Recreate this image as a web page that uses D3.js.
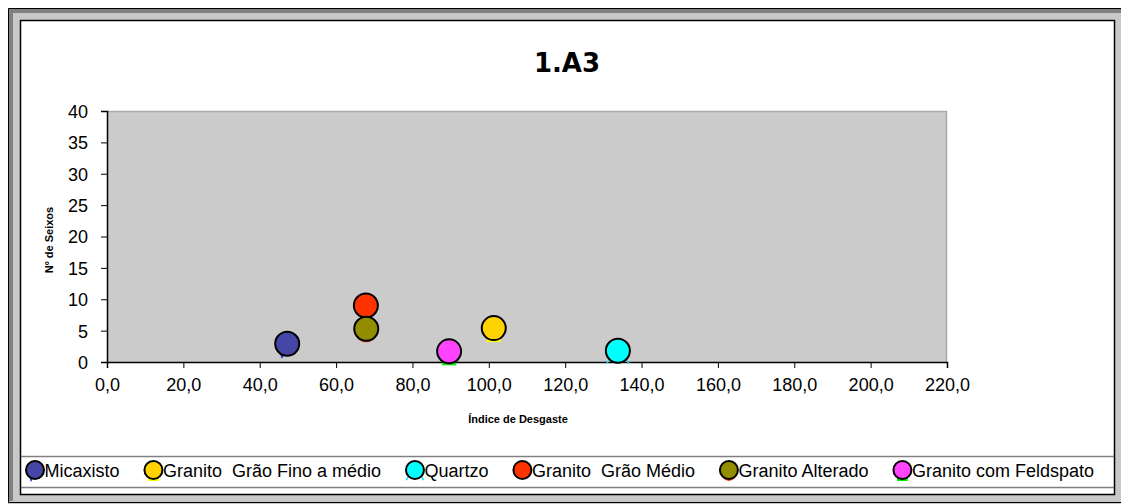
<!DOCTYPE html>
<html>
<head>
<meta charset="utf-8">
<title>1.A3</title>
<script src="https://cdn.jsdelivr.net/npm/d3@7"></script>
<style>
	body { margin: 0; background: #fff; }
	svg { display: block; }
	text { font-family: "Liberation Sans", Arial, sans-serif; fill: #000; }
</style>
</head>
<body>
<div class="chart"></div>
<script>
// data
var seriesNames = ["Micaxisto", "Granito  Grão Fino a médio", "Quartzo", "Granito  Grão Médio", "Granito Alterado", "Granito com Feldspato"];
var indiceDesgaste = [47.2, 101.3, 133.8, 67.8, 67.9, 89.6];
var nSeixos = [2.9, 5.4, 1.8, 9.0, 5.3, 1.7];
var xTicks = [0, 20, 40, 60, 80, 100, 120, 140, 160, 180, 200, 220];
var yTicks = [0, 5, 10, 15, 20, 25, 30, 35, 40];

// styles
var fillColors = ["#4646a6", "#ffd200", "#00ffff", "#ff3300", "#938e00", "#ff44ff"];
var accentColors = ["#1f35c8", "#ffff00", "#00e8ff", "#ff3300", "#ff3300", "#00ee00"];
var accentShapes = ["tri", "bar", "ticks", "none", "arc", "bar"];

var W = 1121, H = 504;
var plot = {left: 107, right: 947, top: 111, bottom: 362};

var svg = d3.select(".chart").append("svg")
	.attr("width", W)
	.attr("height", H);

// frame (excel style bevel)
svg.append("rect").attr("x", 8).attr("y", 8).attr("width", W - 8).attr("height", 496).attr("fill", "#c8c8c8");
svg.append("rect").attr("x", 9).attr("y", 9).attr("width", W - 9).attr("height", 4).attr("fill", "#808080");
svg.append("rect").attr("x", 9).attr("y", 9).attr("width", 4).attr("height", 492).attr("fill", "#808080");
svg.append("path").attr("d", "M" + W + ",8.5H8.5V502.5H" + W).attr("fill", "none").attr("stroke", "#000");
svg.append("rect").attr("x", 20.5).attr("y", 20.5).attr("width", 1094).attr("height", 474)
	.attr("fill", "#fff").attr("stroke", "#000").attr("stroke-width", 1.5);

// title
svg.append("text")
	.attr("x", 567).attr("y", 72)
	.attr("text-anchor", "middle")
	.style("font-family", "'DejaVu Sans', Verdana, sans-serif")
	.style("font-weight", "bold")
	.style("font-size", "26px")
	.text("1.A3");

var x = d3.scaleLinear().domain([0, 220]).range([plot.left, plot.right]);
var y = d3.scaleLinear().domain([0, 40]).range([plot.bottom, plot.top]);

// plot area
svg.append("rect")
	.attr("x", plot.left).attr("y", plot.top)
	.attr("width", plot.right - plot.left).attr("height", plot.bottom - plot.top)
	.attr("fill", "#cbcbcb");
svg.append("path")
	.attr("d", "M" + plot.left + "," + (plot.top + 0.5) + "H" + (plot.right - 0.5) + "V" + plot.bottom)
	.attr("fill", "none").attr("stroke", "#aaaaaa").attr("stroke-width", 1.5);

var fmtX = function(d) { return d3.format(".1f")(d).replace(".", ","); };

var xAxis = svg.append("g")
	.attr("transform", "translate(0," + plot.bottom + ")")
	.call(d3.axisBottom(x).tickValues(xTicks).tickFormat(fmtX).tickSizeOuter(0).tickSize(6).tickPadding(10));

var yAxis = svg.append("g")
	.attr("transform", "translate(" + plot.left + ",0)")
	.call(d3.axisLeft(y).tickValues(yTicks).tickFormat(d3.format("d")).tickSizeOuter(0).tickSize(6).tickPadding(13));

[xAxis, yAxis].forEach(function(g) {
	g.select(".domain").attr("stroke", "#000").attr("stroke-width", 1.5);
	g.selectAll(".tick line").attr("stroke", "#000");
	g.selectAll(".tick text")
		.style("font-family", "'Liberation Sans', Arial, sans-serif")
		.style("font-size", "18px")
		.attr("fill", "#000");
});
yAxis.selectAll(".tick text").attr("dy", "0.36em");

// axis titles
svg.append("text")
	.attr("x", 518).attr("y", 423)
	.attr("text-anchor", "middle")
	.style("font-weight", "bold").style("font-size", "11px")
	.text("Índice de Desgaste");

svg.append("text")
	.attr("transform", "translate(53,240) rotate(-90)")
	.attr("text-anchor", "middle")
	.style("font-weight", "bold").style("font-size", "11px")
	.text("Nº de Seixos");

function accent(g, shape, color, r) {
	if (shape == "tri") {
		g.append("path").attr("d", "M" + (-r * 0.7) + "," + (r * 0.6) + "L" + (-r * 0.1) + "," + (r * 0.75) + "L" + (-r * 0.45) + "," + (r + 3) + "Z").attr("fill", color);
	} else if (shape == "bar") {
		g.append("rect").attr("x", -r * 0.6).attr("y", r - 1).attr("width", r * 1.2).attr("height", 3).attr("fill", color);
	} else if (shape == "ticks") {
		g.append("path").attr("d", "M" + (-r * 0.75) + "," + (r * 0.8) + "l-2,3M" + (r * 0.75) + "," + (r * 0.8) + "l2,3")
			.attr("stroke", color).attr("stroke-width", 1.5);
	} else if (shape == "arc") {
		g.append("path").attr("d", "M" + (-r * 0.65) + "," + (r * 0.8) + "Q0," + (r + 4) + " " + (r * 0.65) + "," + (r * 0.8))
			.attr("fill", "none").attr("stroke", color).attr("stroke-width", 1.5);
	}
}

// points
var pts = svg.append("g").selectAll("g")
	.data(seriesNames)
	.enter().append("g")
	.attr("transform", function(d, i) { return "translate(" + x(indiceDesgaste[i]) + "," + y(nSeixos[i]) + ")"; });

pts.each(function(d, i) { accent(d3.select(this), accentShapes[i], accentColors[i], 12); });
pts.append("circle")
	.attr("r", 12)
	.attr("fill", function(d, i) { return fillColors[i]; })
	.attr("stroke", "#000")
	.attr("stroke-width", 2);

// legend
svg.append("path")
	.attr("d", "M21,456.5H1114M21,487.5H1114")
	.attr("stroke", "#808080").attr("stroke-width", 1.5);

var legend = svg.append("g").selectAll("g")
	.data(seriesNames)
	.enter().append("g");

var r2 = 9;
legend.each(function(d, i) { accent(d3.select(this), accentShapes[i], accentColors[i], r2); });
legend.append("circle")
	.attr("r", r2)
	.attr("fill", function(d, i) { return fillColors[i]; })
	.attr("stroke", "#000").attr("stroke-width", 2);
legend.append("text")
	.attr("x", r2 + 0.5)
	.attr("y", 6.5)
	.attr("xml:space", "preserve")
	.style("white-space", "pre")
	.style("font-size", "18px")
	.text(function(d) { return d; });

var widths = [];
legend.each(function() { widths.push(2 * r2 + 0.5 + d3.select(this).select("text").node().getComputedTextLength()); });
var start = 26, end = 1094;
var gap = (end - start - d3.sum(widths)) / (widths.length - 1);
var cx = start;
legend.attr("transform", function(d, i) {
	var t = "translate(" + (cx + r2) + ",470)";
	cx += widths[i] + gap;
	return t;
});
</script>
</body>
</html>
